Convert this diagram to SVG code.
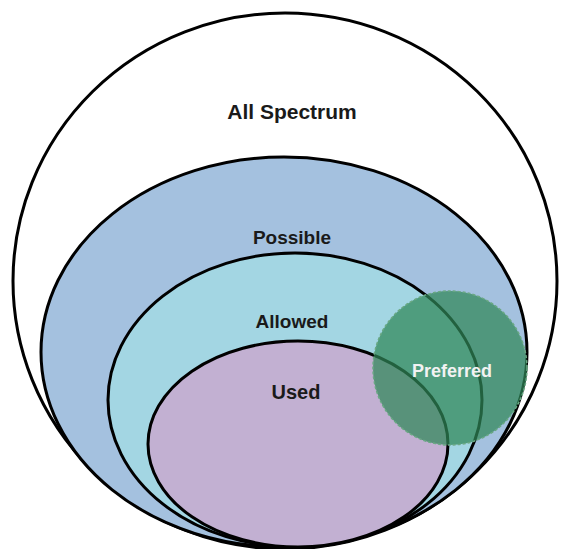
<svg xmlns="http://www.w3.org/2000/svg" width="567" height="549" viewBox="0 0 567 549">
<style>
.ring{stroke:#000;stroke-width:3}
.lbl{font-family:"Liberation Sans",Arial,sans-serif;font-weight:bold;text-anchor:middle;fill:#1a1a1a}
</style>
<rect width="567" height="549" fill="#fff"/>
<g id="all-spectrum">
<ellipse class="ring" cx="285" cy="281" rx="272" ry="268" fill="#fff"/>
<text class="lbl" x="292" y="119" font-size="21">All Spectrum</text>
</g>
<g id="possible">
<ellipse class="ring" cx="284" cy="352" rx="243" ry="195" fill="#a4c1df"/>
<text class="lbl" x="292" y="244" font-size="19" fill="#333">Possible</text>
</g>
<g id="allowed">
<ellipse class="ring" cx="295" cy="400" rx="187" ry="147" fill="#a3d6e3"/>
<text class="lbl" x="292" y="328" font-size="19">Allowed</text>
</g>
<g id="used">
<ellipse class="ring" cx="298" cy="444" rx="150" ry="103" fill="#c2b0d2"/>
<text class="lbl" x="296" y="399" font-size="20">Used</text>
</g>
<g id="preferred">
<circle cx="450" cy="368" r="77" fill="#2f8758" fill-opacity="0.72" stroke="#6aa884" stroke-width="1.5" stroke-dasharray="3 2"/>
<text x="452" y="377" font-family="'Liberation Sans',Arial,sans-serif" font-weight="bold" font-size="18" text-anchor="middle" fill="#f2f2f2">Preferred</text>
</g>
<g id="connectors"/>
</svg>
